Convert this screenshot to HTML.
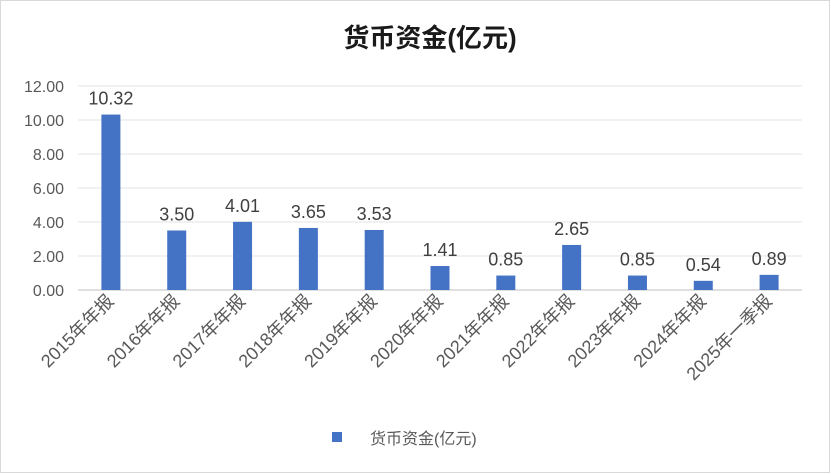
<!DOCTYPE html>
<html><head><meta charset="utf-8">
<style>
html,body{margin:0;padding:0;background:#fff;}
svg{display:block;font-family:"Liberation Sans","Noto Sans CJK SC",sans-serif;}
</style></head>
<body>
<svg id="chart" width="831" height="474" viewBox="0 0 831 474">
<rect x="0.5" y="0.5" width="829" height="472" fill="#fff" stroke="#d9d9d9"/>
<text x="430" y="47" text-anchor="middle" font-size="26" font-weight="bold" fill="#1a1a1a">货币资金(亿元)</text>
<g id="grid"></g>
<g id="yticks"></g>
<g id="bars"></g>
<g id="xlabels"></g>
<g>
<rect x="332" y="432" width="10" height="10" fill="#4472c4"/>
<text x="370" y="444" font-size="16" fill="#595959">货币资金(亿元)</text>
</g>
</svg>
<script>
const categories=["2015年年报","2016年年报","2017年年报","2018年年报","2019年年报","2020年年报","2021年年报","2022年年报","2023年年报","2024年年报","2025年一季报"];
const values=[10.32,3.50,4.01,3.65,3.53,1.41,0.85,2.65,0.85,0.54,0.89];
const yTicks=[0,2,4,6,8,10,12];
const NS="http://www.w3.org/2000/svg";
const x0=78,x1=802,yBase=290,yTop=86,yMax=12;
const band=(x1-x0)/categories.length;
const y=v=>yBase-(v/yMax)*(yBase-yTop);
const xc=i=>x0+band*(i+0.5);
function mk(t,a){const e=document.createElementNS(NS,t);for(const k in a)e.setAttribute(k,a[k]);return e;}
const grid=document.getElementById('grid'),yt=document.getElementById('yticks'),bars=document.getElementById('bars'),xl=document.getElementById('xlabels');
yTicks.forEach(v=>{
 const l=mk('line',{x1:x0,x2:x1,y1:y(v),y2:y(v),stroke:v===0?'#bfbfbf':'#e3e3e3','stroke-width':1});
 
 
 grid.appendChild(l);
 const t=mk('text',{x:64,y:y(v)+6,'text-anchor':'end','font-size':16,fill:'#595959'});
 
 
 t.textContent=v.toFixed(2);yt.appendChild(t);
});
categories.forEach((c,i)=>{
 const v=values[i],bw=19;
 const r=mk('rect',{x:xc(i)-bw/2,y:y(v),width:bw,height:yBase-y(v),fill:'#4472c4'});
 
 
 bars.appendChild(r);
 const t=mk('text',{x:xc(i),y:y(v)-10,'text-anchor':'middle','font-size':18,fill:'#404040'});
 
 
 t.textContent=v.toFixed(2);bars.appendChild(t);
 const lx=xc(i)+4,ly=302;
 const s=mk('text',{x:lx,y:ly,'text-anchor':'end','font-size':18,fill:'#595959',transform:`rotate(-45 ${lx} ${ly})`});
 
 
 s.textContent=c;xl.appendChild(s);
});
</script>
</body></html>
